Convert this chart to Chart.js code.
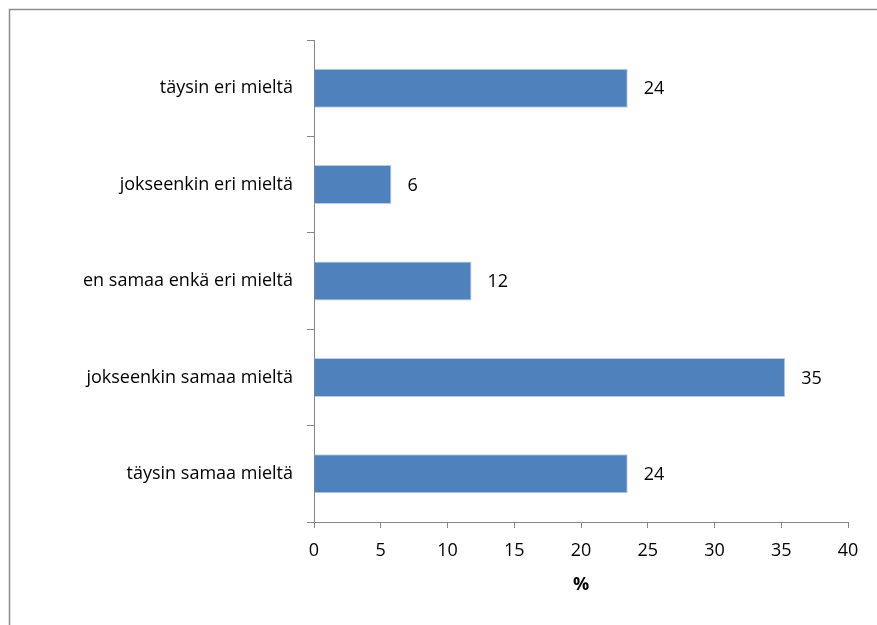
<!DOCTYPE html>
<html>
<head>
<meta charset="utf-8">
<script src="https://cdn.jsdelivr.net/npm/chart.js@4.4.1/dist/chart.umd.min.js"></script>
<style>
html,body{margin:0;padding:0;background:#fff;}
#wrap{width:877px;height:625px;position:relative;}
</style>
</head>
<body>
<div id="wrap"><canvas id="c" width="877" height="625"></canvas></div>
<script>
const categories = ["täysin eri mieltä", "jokseenkin eri mieltä", "en samaa enkä eri mieltä", "jokseenkin samaa mieltä", "täysin samaa mieltä"];
const values = [23.5, 5.8, 11.8, 35.3, 23.5];
const valueLabels = ["24", "6", "12", "35", "24"];
const xTicks = [0, 5, 10, 15, 20, 25, 30, 35, 40];
const xTitle = "%";

const FONT = "'Open Sans'";

const framePlugin = {
  id: 'frame',
  afterDraw(chart) {
    const ctx = chart.ctx;
    ctx.save();
    ctx.strokeStyle = '#8c8c8c';
    ctx.lineWidth = 1.5;
    ctx.strokeRect(9.5, 9.5, 900, 700);
    ctx.restore();
  }
};

const labelPlugin = {
  id: 'valueLabels',
  afterDatasetsDraw(chart) {
    const ctx = chart.ctx;
    const meta = chart.getDatasetMeta(0);
    ctx.save();
    ctx.fillStyle = '#000';
    ctx.font = '18px ' + FONT;
    ctx.textAlign = 'left';
    ctx.textBaseline = 'middle';
    meta.data.forEach((bar, i) => {
      ctx.fillText(valueLabels[i], bar.x + 16, bar.y + 1);
    });
    ctx.restore();
  }
};

new Chart(document.getElementById('c'), {
  type: 'bar',
  data: {
    labels: categories,
    datasets: [{
      data: values,
      backgroundColor: '#4f81bd',
      borderColor: '#b9cde5',
      borderWidth: 1,
      barPercentage: 0.405,
      categoryPercentage: 1
    }]
  },
  options: {
    indexAxis: 'y',
    responsive: false,
    animation: false,
    events: [],
    layout: { padding: { top: 40, right: 29, bottom: 28, left: 0 } },
    plugins: { legend: { display: false }, tooltip: { enabled: false } },
    scales: {
      x: {
        min: 0, max: 40,
        afterBuildTicks(scale) { scale.ticks = xTicks.map(v => ({ value: v })); },
        afterFit(scale) { scale.height = 75; },
        grid: { drawOnChartArea: false, tickLength: 6, color: '#868686', lineWidth: 1 },
        border: { color: '#868686', width: 1 },
        ticks: { color: '#000', font: { family: FONT, size: 18 }, padding: 12, maxRotation: 0 },
        title: { display: true, text: xTitle, color: '#000', font: { family: FONT, size: 18, weight: 'bold' }, padding: { top: 0, bottom: 1 } }
      },
      y: {
        afterFit(scale) { scale.width = 314; },
        grid: { drawOnChartArea: false, tickLength: 7, color: '#868686', lineWidth: 1, offset: true },
        border: { color: '#868686', width: 1 },
        ticks: { color: '#000', font: { family: FONT, size: 18 }, padding: 14 }
      }
    }
  },
  plugins: [framePlugin, labelPlugin]
});
</script>
</body>
</html>
